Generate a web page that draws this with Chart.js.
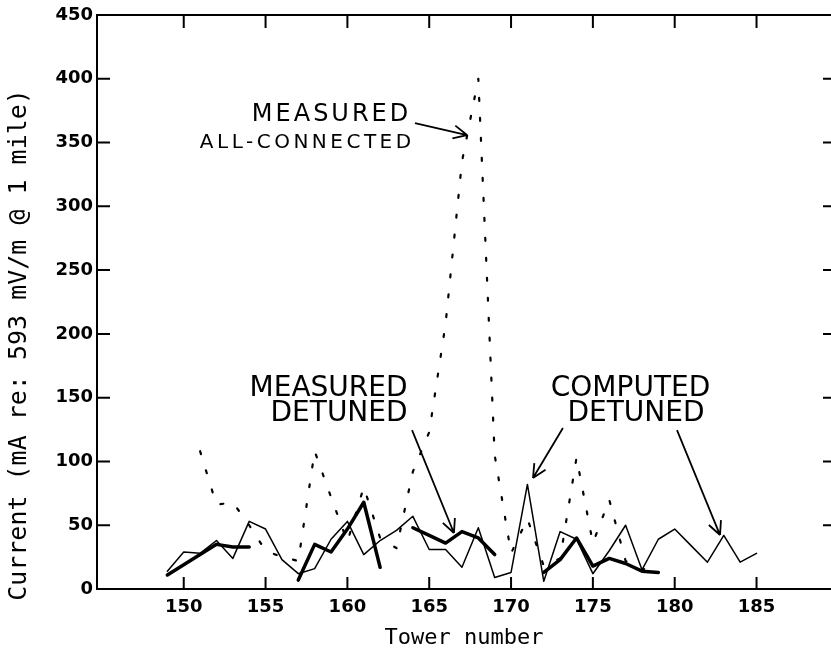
<!DOCTYPE html>
<html>
<head>
<meta charset="utf-8">
<script src="https://cdn.jsdelivr.net/npm/chart.js@4.4.1/dist/chart.umd.min.js"></script>
<style>
html,body{margin:0;padding:0;background:#fff;}
</style>
</head>
<body>
<canvas id="chart" width="831" height="655"></canvas>
<script>
// tower numbers along the line
const towers = [149,150,151,152,153,154,155,156,157,158,159,160,161,162,163,164,165,166,167,
                168,169,170,171,172,173,174,175,176,177,178,179,180,181,182,183,184,185];

// computed detuned (thin line)
const computedDetuned = [14,29,28,38,24,53,47,23,12,16,39,53,27,38,46,57,31,31,17,
                         48,9,13,82,6,45,39,12,30,50,15,39,47,34,21,42,21,28];

// measured detuned (thick line, gaps = not measured)
const measuredDetuned = [11,19,27,35,33,33,null,null,7,35,29,47,68,17,null,48,42,36,45,
                         40,27,null,null,13,23,40,18,24,20,14,13,null,null,null,null,null,null];

// measured all-connected (dotted line)
const measuredAll = [null,null,108,66,68,50,30,25,22,108,72,37,80,40,32,92,123,208,335,
                     400,105,28,55,18,24,103,36,70,22,15,20,null,null,null,null,null,null];

const xTicks = [150,155,160,165,170,175,180,185];
const yTicks = [0,50,100,150,200,250,300,350,400,450];

function pts(vals){
return towers.map((t,i)=>({x:t,y:vals[i]}));
}

const tickFont = {family:"DejaVu Sans",weight:"bold",size:18};

// frame, inward ticks, y title and the labels with arrows
const decorations = {
id:"decorations",
afterDraw(chart){
const ctx = chart.ctx;
const a = chart.chartArea;
const xs = chart.scales.x;
const ys = chart.scales.y;
ctx.save();
ctx.strokeStyle = "#000";
ctx.fillStyle = "#000";
ctx.lineWidth = 2;

ctx.beginPath();
ctx.moveTo(a.left,a.top);
ctx.lineTo(a.right,a.top);
ctx.stroke();

xTicks.forEach(v=>{
const px = xs.getPixelForValue(v);
ctx.beginPath();
ctx.moveTo(px,a.bottom);ctx.lineTo(px,a.bottom-12);
ctx.moveTo(px,a.top);ctx.lineTo(px,a.top+13);
ctx.stroke();
});
yTicks.forEach(v=>{
if(v===0||v===450)return;
const py = ys.getPixelForValue(v);
ctx.beginPath();
ctx.moveTo(a.left,py);ctx.lineTo(a.left+13,py);
ctx.moveTo(a.right,py);ctx.lineTo(a.right-8,py);
ctx.stroke();
});

// y axis title
ctx.save();
ctx.translate(19,345);
ctx.rotate(-Math.PI/2);
ctx.font = "25px 'DejaVu Sans Mono'";
ctx.textAlign = "center";
ctx.textBaseline = "middle";
ctx.fillText("Current (mA re: 593 mV/m @ 1 mile)",0,0);
ctx.restore();

// labels
const texts = [
["MEASURED",158.94,372,24,3],
["ALL-CONNECTED",157.44,350,20,3.5],
["MEASURED",158.85,156.8,28,0],
["DETUNED",159.49,137.2,28,0],
["COMPUTED",177.3,156.8,28,0],
["DETUNED",177.63,137.2,28,0]
];
ctx.textAlign = "center";
ctx.textBaseline = "middle";
texts.forEach(t=>{
ctx.font = t[3]+"px 'DejaVu Sans'";
ctx.letterSpacing = t[4]+"px";
ctx.fillText(t[0],xs.getPixelForValue(t[1])+t[4]/2,ys.getPixelForValue(t[2]));
});
ctx.letterSpacing = "0px";

const arrows = [
[164.13,365.3,167.31,355.9],
[163.95,124.6,166.51,43.9],
[173.17,126.2,171.34,87.0],
[180.14,124.6,182.77,42.3]
];
ctx.lineWidth = 1.8;
arrows.forEach(r=>{
const x1 = xs.getPixelForValue(r[0]), y1 = ys.getPixelForValue(r[1]);
const x2 = xs.getPixelForValue(r[2]), y2 = ys.getPixelForValue(r[3]);
const ang = Math.atan2(y2-y1,x2-x1);
ctx.beginPath();
ctx.moveTo(x1,y1);ctx.lineTo(x2,y2);
[0.45,-0.45].forEach(d=>{
ctx.moveTo(x2,y2);
ctx.lineTo(x2-15*Math.cos(ang+d),y2-15*Math.sin(ang+d));
});
ctx.stroke();
});
ctx.restore();
}
};

new Chart(document.getElementById("chart"),{
type:"line",
data:{
datasets:[
{label:"Measured all-connected",data:pts(measuredAll),borderColor:"#000",borderWidth:2.2,borderDash:[3,17],spanGaps:false},
{label:"Computed detuned",data:pts(computedDetuned),borderColor:"#000",borderWidth:1.5},
{label:"Measured detuned",data:pts(measuredDetuned),borderColor:"#000",borderWidth:3.5,spanGaps:false}
]
},
options:{
responsive:false,
animation:false,
layout:{padding:{top:15,right:0,left:0,bottom:0}},
elements:{point:{radius:0},line:{tension:0,borderJoinStyle:"round",borderCapStyle:"round"}},
plugins:{legend:{display:false},tooltip:{enabled:false}},
scales:{
x:{
type:"linear",min:144.7,max:189.55,
afterBuildTicks:s=>{s.ticks=xTicks.map(v=>({value:v}));},
afterFit:s=>{s.height=66;},
grid:{display:false,drawTicks:false},
border:{display:true,color:"#000",width:2},
ticks:{padding:8,color:"#000",font:tickFont,maxRotation:0,autoSkip:false},
title:{display:true,text:"Tower number",color:"#000",font:{family:"DejaVu Sans Mono",size:22},padding:{top:0,bottom:4}}
},
y:{
min:0,max:450,
afterBuildTicks:s=>{s.ticks=yTicks.map(v=>({value:v}));},
afterFit:s=>{s.width=97;},
grid:{display:false,drawTicks:false},
border:{display:true,color:"#000",width:2},
ticks:{padding:4,color:"#000",font:tickFont}
}
}
},
plugins:[decorations]
});
</script>
</body>
</html>
